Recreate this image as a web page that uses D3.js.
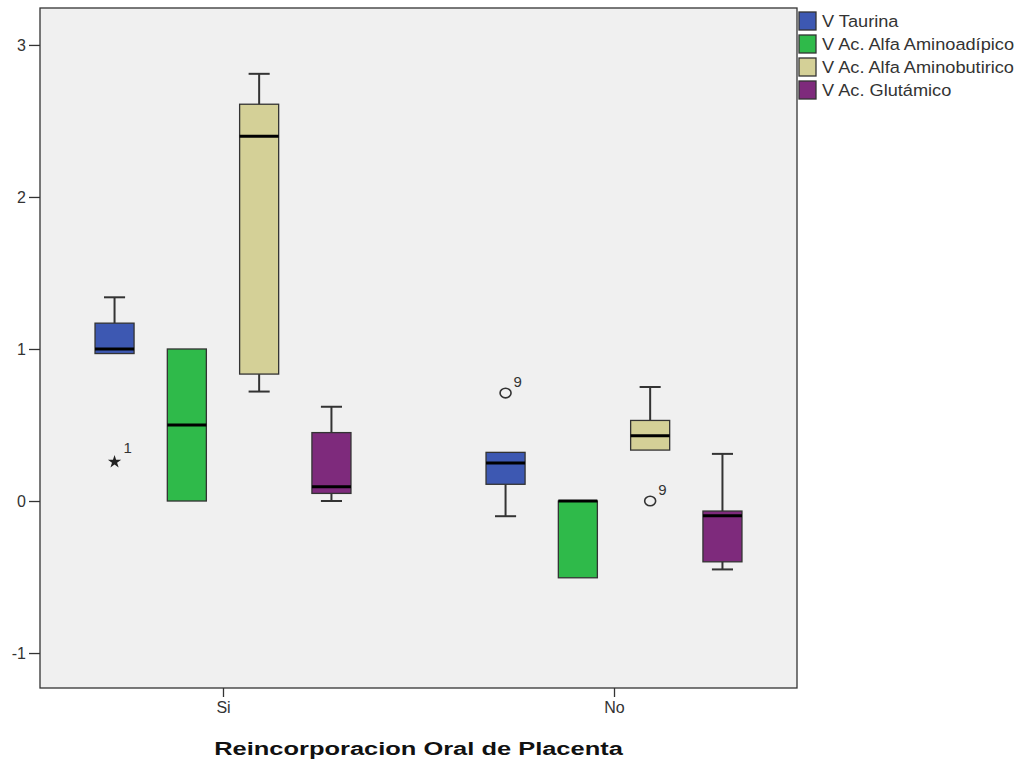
<!DOCTYPE html>
<html><head><meta charset="utf-8">
<script src="https://cdn.jsdelivr.net/npm/d3@7"></script>
<style>body{margin:0;background:#fff;} text{font-family:Arial,"Liberation Sans",sans-serif;}</style>
</head><body>
<svg id="c" width="1026" height="763"></svg>
<script>
const groups = ["Si", "No"];
const series = ["V Taurina", "V Ac. Alfa Aminoadípico", "V Ac. Alfa Aminobutirico", "V Ac. Glutámico"];
const colors = ["#3d58b2", "#2fba4a", "#d4d097", "#7e2a7c"];
// [min whisker, Q1, median, Q3, max whisker] per group, per series
const siStats = [
  [0.97, 0.97, 1.0, 1.17, 1.34],
  [0.0, 0.0, 0.5, 1.0, 1.0],
  [0.72, 0.835, 2.4, 2.61, 2.81],
  [0.0, 0.05, 0.094, 0.45, 0.62]
];
const noStats = [
  [-0.1, 0.11, 0.25, 0.32, 0.32],
  [-0.505, -0.505, 0.0, 0.0, 0.0],
  [0.335, 0.335, 0.43, 0.53, 0.75],
  [-0.45, -0.40, -0.097, -0.066, 0.31]
];
// outliers: group, series index, value, label, type
const outliers = [
  {g: "Si", s: 0, v: 0.257, label: "1", type: "star"},
  {g: "No", s: 0, v: 0.71, label: "9", type: "circle"},
  {g: "No", s: 2, v: 0.0, label: "9", type: "circle"}
];
const yTicks = [-1, 0, 1, 2, 3];
const xTitle = "Reincorporacion Oral de Placenta";

const svg = d3.select("#c");
const L = 40, R = 797, T = 8, B = 688;
const y = d3.scaleLinear().domain([-1.23, 3.243]).range([B, T]);
const x = d3.scalePoint().domain(groups).range([L, R]).padding(0.468);
const xs = d3.scaleBand().domain(d3.range(series.length)).range([-144.6, 144.6]).paddingInner(0.46).paddingOuter(0.23);
const bw = xs.bandwidth();

svg.append("rect").attr("x", L).attr("y", T).attr("width", R - L).attr("height", B - T)
  .attr("fill", "#f0f0f0").attr("stroke", "#333").attr("stroke-width", 1.3);

// y axis
const ya = svg.append("g").attr("transform", `translate(${L},0)`)
  .call(d3.axisLeft(y).tickValues(yTicks).tickSize(11).tickPadding(3).tickFormat(d => String(d)));
ya.select(".domain").remove();
ya.selectAll("line").attr("stroke", "#333").attr("stroke-width", 1.3);
ya.selectAll("text").attr("font-size", 16).attr("fill", "#333");

// x axis
const xa = svg.append("g").attr("transform", `translate(0,${B})`)
  .call(d3.axisBottom(x).tickSize(9).tickPadding(5));
xa.select(".domain").remove();
xa.selectAll("line").attr("stroke", "#333").attr("stroke-width", 1.3);
xa.selectAll("text").attr("font-size", 16).attr("fill", "#333");

svg.append("text").attr("transform", `translate(${(L + R) / 2},755) scale(1.34,1)`).attr("text-anchor", "middle")
  .attr("font-size", 19).attr("font-weight", "bold").attr("fill", "#111").text(xTitle);

const statsByGroup = {Si: siStats, No: noStats};
groups.forEach(g => {
  statsByGroup[g].forEach((st, i) => {
    const cx = x(g) + xs(i) + bw / 2;
    const x0 = x(g) + xs(i);
    const [mn, q1, md, q3, mx] = st;
    const gg = svg.append("g");
    const cap = bw * 0.27;
    if (mx > q3) {
      gg.append("line").attr("x1", cx).attr("x2", cx).attr("y1", y(q3)).attr("y2", y(mx)).attr("stroke", "#333").attr("stroke-width", 2);
      gg.append("line").attr("x1", cx - cap).attr("x2", cx + cap).attr("y1", y(mx)).attr("y2", y(mx)).attr("stroke", "#333").attr("stroke-width", 2);
    }
    if (mn < q1) {
      gg.append("line").attr("x1", cx).attr("x2", cx).attr("y1", y(q1)).attr("y2", y(mn)).attr("stroke", "#333").attr("stroke-width", 2);
      gg.append("line").attr("x1", cx - cap).attr("x2", cx + cap).attr("y1", y(mn)).attr("y2", y(mn)).attr("stroke", "#333").attr("stroke-width", 2);
    }
    gg.append("rect").attr("x", x0).attr("y", y(q3)).attr("width", bw).attr("height", y(q1) - y(q3))
      .attr("fill", colors[i]).attr("stroke", "#333").attr("stroke-width", 1.3);
    gg.append("line").attr("x1", x0).attr("x2", x0 + bw).attr("y1", y(md)).attr("y2", y(md))
      .attr("stroke", "#000").attr("stroke-width", 3);
  });
});

outliers.forEach(o => {
  const cx = x(o.g) + xs(o.s) + bw / 2;
  const cy = y(o.v);
  if (o.type === "star") {
    svg.append("path").attr("d", d3.symbol(d3.symbolStar, 55)()).attr("transform", `translate(${cx},${cy})`).attr("fill", "#222");
    svg.append("text").attr("x", cx + 9).attr("y", cy - 9).attr("font-size", 15).attr("fill", "#333").text(o.label);
  } else {
    svg.append("ellipse").attr("cx", cx).attr("cy", cy).attr("rx", 5.5).attr("ry", 4.8).attr("fill", "none").attr("stroke", "#333").attr("stroke-width", 1.6);
    svg.append("text").attr("x", cx + 8).attr("y", cy - 6).attr("font-size", 15).attr("fill", "#333").text(o.label);
  }
});

// legend
const lg = svg.append("g").attr("transform", "translate(799,12)");
series.forEach((s, i) => {
  const row = lg.append("g").attr("transform", `translate(0,${i * 23})`);
  row.append("rect").attr("x", 0).attr("y", 0).attr("width", 17).attr("height", 18)
    .attr("fill", colors[i]).attr("stroke", "#333").attr("stroke-width", 1.3);
  row.append("text").attr("transform", "translate(23,14.5) scale(1.07,1)").attr("font-size", 17).attr("fill", "#333").text(s);
});
</script>
</body></html>
